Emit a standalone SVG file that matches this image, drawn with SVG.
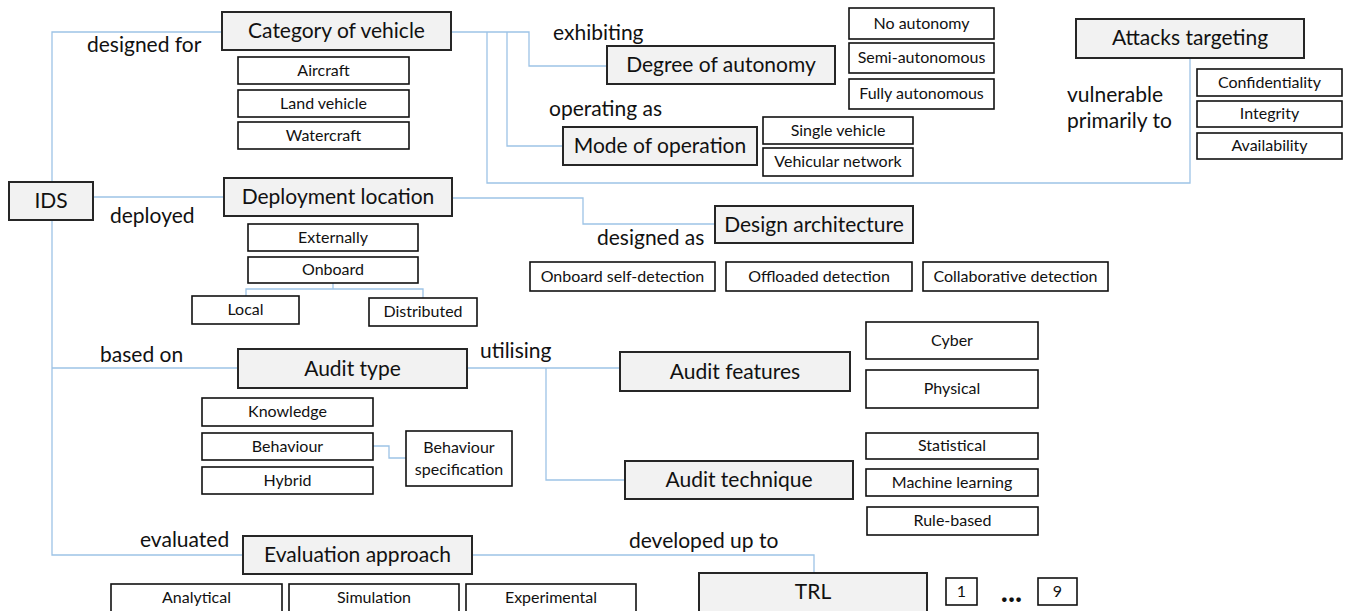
<svg xmlns="http://www.w3.org/2000/svg" width="1346" height="611" viewBox="0 0 1346 611">
<style>
text{font-family:Lato,"Liberation Sans",sans-serif;fill:#111}
.m rect{fill:#f2f2f2;stroke:#262626;stroke-width:2}
.m text{font-size:21px;text-anchor:middle}
.s rect{fill:#fff;stroke:#111;stroke-width:1.6}
.s text{font-size:16px;text-anchor:middle}
.lbl{font-size:21px}
#connectors path{fill:none;stroke:#9dc3e6;stroke-width:1.3}
</style>
<rect width="1346" height="611" fill="#fff"/>
<g id="connectors">
<path d="M52,182 V32 H222"/>
<path d="M93,197 H224"/>
<path d="M52,220 V555 H243"/>
<path d="M52,368 H238"/>
<path d="M451,32 H529 V66 H607"/>
<path d="M507,32 V146 H563"/>
<path d="M487,32 V183 H1190 V58"/>
<path d="M452,198 H583 V224 H715"/>
<path d="M333,283 V289"/>
<path d="M246,296 V289 H423 V298"/>
<path d="M467,368 H620"/>
<path d="M546,368 V480 H625"/>
<path d="M373,446 H389 V458 H406"/>
<path d="M472,555 H814 V573"/>
</g>
<g id="labels">
<text class="lbl" x="87" y="52">designed for</text>
<text class="lbl" x="553" y="40">exhibiting</text>
<text class="lbl" x="549" y="116">operating as</text>
<text class="lbl" x="1067" y="102">vulnerable</text>
<text class="lbl" x="1067" y="128">primarily to</text>
<text class="lbl" x="110" y="223">deployed</text>
<text class="lbl" x="597" y="245">designed as</text>
<text class="lbl" x="100" y="362">based on</text>
<text class="lbl" x="480" y="358">utilising</text>
<text class="lbl" x="140" y="547">evaluated</text>
<text class="lbl" x="629" y="548">developed up to</text>
</g>
<g id="ids" class="m"><rect x="9" y="182" width="84" height="38"/><text x="51" y="208">IDS</text></g>
<g id="category" class="m"><rect x="222" y="12" width="229" height="38"/><text x="336.5" y="38">Category of vehicle</text></g>
<g id="category-items" class="s">
<rect x="238" y="57" width="171" height="27"/><text x="323.5" y="76">Aircraft</text>
<rect x="238" y="90" width="171" height="27"/><text x="323.5" y="109">Land vehicle</text>
<rect x="238" y="122" width="171" height="27"/><text x="323.5" y="141">Watercraft</text>
</g>
<g id="autonomy" class="m"><rect x="607" y="46" width="228" height="38"/><text x="721" y="72">Degree of autonomy</text></g>
<g id="autonomy-items" class="s">
<rect x="849" y="8" width="145" height="31"/><text x="921.5" y="29">No autonomy</text>
<rect x="849" y="43" width="145" height="30"/><text x="921.5" y="63">Semi-autonomous</text>
<rect x="849" y="79" width="145" height="30"/><text x="921.5" y="99">Fully autonomous</text>
</g>
<g id="mode" class="m"><rect x="563" y="127" width="194" height="38"/><text x="660" y="153">Mode of operation</text></g>
<g id="mode-items" class="s">
<rect x="763" y="117" width="150" height="27"/><text x="838" y="136">Single vehicle</text>
<rect x="763" y="148" width="150" height="28"/><text x="838" y="167">Vehicular network</text>
</g>
<g id="attacks" class="m"><rect x="1076" y="19" width="228" height="39"/><text x="1190" y="45">Attacks targeting</text></g>
<g id="attacks-items" class="s">
<rect x="1197" y="69" width="145" height="27"/><text x="1269.5" y="88">Confidentiality</text>
<rect x="1197" y="101" width="145" height="26"/><text x="1269.5" y="119">Integrity</text>
<rect x="1197" y="133" width="145" height="26"/><text x="1269.5" y="151">Availability</text>
</g>
<g id="deployment" class="m"><rect x="224" y="178" width="228" height="38"/><text x="338" y="204">Deployment location</text></g>
<g id="deployment-items" class="s">
<rect x="248" y="224" width="170" height="27"/><text x="333" y="243">Externally</text>
<rect x="248" y="257" width="170" height="26"/><text x="333" y="275">Onboard</text>
<rect x="192" y="296" width="107" height="28"/><text x="245.5" y="315">Local</text>
<rect x="369" y="298" width="108" height="28"/><text x="423" y="317">Distributed</text>
</g>
<g id="design" class="m"><rect x="715" y="206" width="198" height="37"/><text x="814" y="232">Design architecture</text></g>
<g id="design-items" class="s">
<rect x="530" y="262" width="185" height="29"/><text x="622.5" y="282">Onboard self-detection</text>
<rect x="726" y="262" width="186" height="29"/><text x="819" y="282">Offloaded detection</text>
<rect x="923" y="262" width="185" height="29"/><text x="1015.5" y="282">Collaborative detection</text>
</g>
<g id="audit-type" class="m"><rect x="238" y="349" width="229" height="39"/><text x="352.5" y="376">Audit type</text></g>
<g id="audit-type-items" class="s">
<rect x="202" y="398" width="171" height="28"/><text x="287.5" y="417">Knowledge</text>
<rect x="202" y="433" width="171" height="27"/><text x="287.5" y="452">Behaviour</text>
<rect x="202" y="467" width="171" height="27"/><text x="287.5" y="486">Hybrid</text>
<rect x="406" y="431" width="106" height="55"/><text x="459" y="453">Behaviour</text><text x="459" y="475">specification</text>
</g>
<g id="audit-features" class="m"><rect x="620" y="352" width="230" height="39"/><text x="735" y="379">Audit features</text></g>
<g id="audit-features-items" class="s">
<rect x="866" y="322" width="172" height="37"/><text x="952" y="346">Cyber</text>
<rect x="866" y="370" width="172" height="38"/><text x="952" y="394">Physical</text>
</g>
<g id="audit-technique" class="m"><rect x="625" y="461" width="228" height="38"/><text x="739" y="487">Audit technique</text></g>
<g id="audit-technique-items" class="s">
<rect x="866" y="433" width="172" height="26"/><text x="952" y="451">Statistical</text>
<rect x="866" y="469" width="172" height="27"/><text x="952" y="488">Machine learning</text>
<rect x="867" y="507" width="171" height="28"/><text x="952.5" y="526">Rule-based</text>
</g>
<g id="evaluation" class="m"><rect x="243" y="536" width="229" height="38"/><text x="357.5" y="562">Evaluation approach</text></g>
<g id="evaluation-items" class="s">
<rect x="111" y="584" width="171" height="28"/><text x="196.5" y="603">Analytical</text>
<rect x="289" y="584" width="170" height="28"/><text x="374" y="603">Simulation</text>
<rect x="466" y="584" width="170" height="28"/><text x="551" y="603">Experimental</text>
</g>
<g id="trl" class="m"><rect x="699" y="573" width="228" height="40"/><text x="813" y="599">TRL</text></g>
<g id="trl-items" class="s">
<rect x="946" y="578" width="31" height="27"/><text x="961.5" y="597">1</text>
<text x="1011.5" y="602" style="font-size:30px;font-weight:bold">...</text>
<rect x="1038" y="578" width="39" height="27"/><text x="1057.5" y="597">9</text>
</g>
</svg>
